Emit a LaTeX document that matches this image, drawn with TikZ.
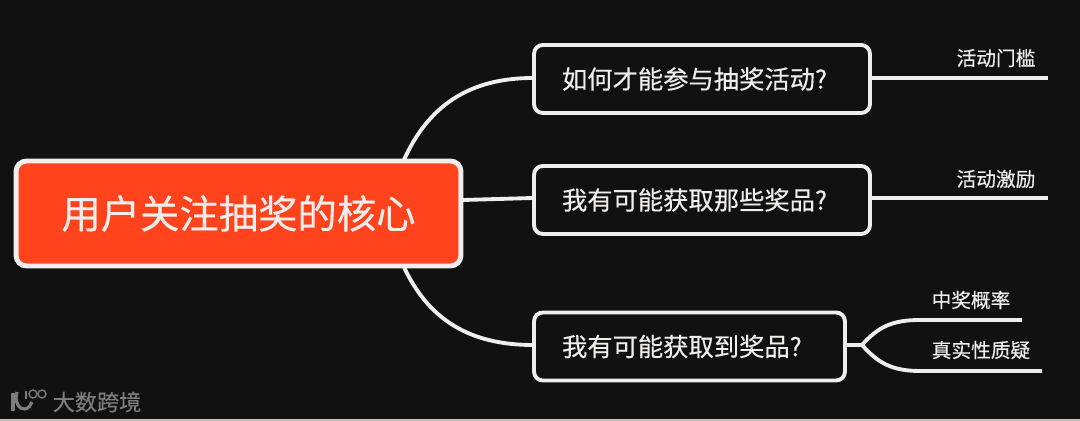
\documentclass[tikz,border=0pt]{standalone}
\usepackage{fontspec}
\setmainfont[FakeBold=0.35]{Noto Sans CJK SC}
\definecolor{bgdark}{RGB}{17, 17, 17}
\definecolor{rootred}{RGB}{255, 67, 28}
\definecolor{linewhite}{RGB}{240, 238, 236}
\definecolor{markgray}{RGB}{125, 125, 125}
\usetikzlibrary{positioning}
\tikzset{
  questionbox/.style={draw=linewhite, line width=2.2pt, fill=bgdark, rounded corners=5pt, text=linewhite, font=\fontsize{14.4}{17}\selectfont, minimum height=1.36cm, inner xsep=0.56cm, inner ysep=0pt, align=left},
  leaflabel/.style={text=linewhite, font=\fontsize{11.2}{13}\selectfont, inner sep=0pt},
  branch/.style={draw=linewhite, line width=2.2pt}
}

\begin{document}
\begin{tikzpicture}[x=0.02cm, y=-0.02cm]
  % Page
  \fill[bgdark] (0, 0) rectangle (1080, 421);
  \fill[linewhite!80!bgdark] (0, 419) rectangle (1080, 421);

  % Free ends of the connectors
  \coordinate (rootup) at (403, 162);
  \coordinate (rootmid) at (463, 200);
  \coordinate (rootdown) at (403, 265);
  \coordinate (endone) at (1048, 78);
  \coordinate (endtwo) at (1048, 198);
  \coordinate (fork) at (862, 345);
  \coordinate (endrate) at (1022, 320);
  \coordinate (enddoubt) at (1042, 371);

  % Connectors go under the boxes
  \draw[branch] (rootup) .. controls (428, 105) and (470, 78) .. (533, 78);
  \draw[branch] (rootmid) -- (533, 198);
  \draw[branch] (rootdown) .. controls (428, 320) and (470, 345) .. (533, 345);

  % Root
  \node[draw=linewhite, line width=2.8pt, fill=rootred, rounded corners=6pt, text=linewhite, font=\fontsize{22.4}{26}\selectfont, minimum width=8.9cm, minimum height=2.1cm] (root) at (238.5, 213.5) {用户关注抽奖的核心};

  % Three questions
  \node[questionbox, text width=5.6cm] (qone) at (702, 79) {如何才能参与抽奖活动?};
  \node[questionbox, text width=5.6cm] (qtwo) at (702, 200) {我有可能获取那些奖品?};
  \node[questionbox, text width=5.1cm] (qthree) at (689.5, 346.5) {我有可能获取到奖品?};

  % Leaves
  \draw[branch] (qone.east |- endone) -- (endone);
  \draw[branch] (qtwo.east |- endtwo) -- (endtwo);
  \draw[branch] (qthree.east |- fork) -- (fork);
  \draw[branch] (fork) .. controls (878, 327) and (892, 320) .. (920, 320) -- (endrate);
  \draw[branch] (fork) .. controls (878, 363) and (892, 371) .. (920, 371) -- (enddoubt);

  \node[leaflabel] (gate) at (996, 58) {活动门槛};
  \node[leaflabel] (reward) at (996, 179) {活动激励};
  \node[leaflabel] (rate) at (971, 300) {中奖概率};
  \node[leaflabel] (doubt) at (981, 350) {真实性质疑};

  % Watermark
  \draw[markgray, line width=2.2pt] (13, 393) -- (13, 411);
  \draw[markgray, line width=1.8pt] (17, 392) .. controls (14, 401) and (19, 410) .. (25, 409) .. controls (29, 408) and (31, 405) .. (32, 402);
  \draw[markgray, line width=0.8pt] (26, 391) -- (26, 399);
  \draw[markgray, line width=0.8pt] (33, 394) circle (4);
  \draw[markgray, line width=0.8pt] (42, 394) circle (4);
  \node[text=markgray, font=\fontsize{12.6}{15}\selectfont, inner sep=0pt] (mark) at (97, 402) {大数跨境};
\end{tikzpicture}
\end{document}
